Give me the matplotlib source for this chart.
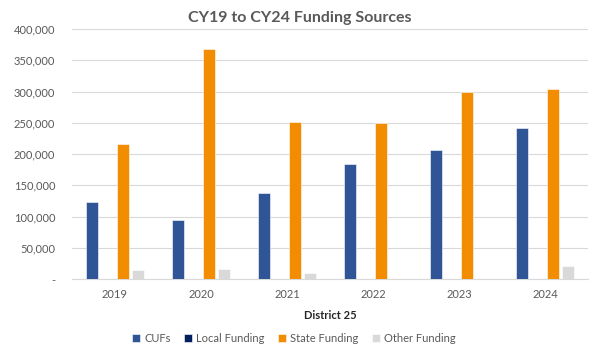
import matplotlib

matplotlib.use("Agg")
import matplotlib.pyplot as plt
import numpy as np
from matplotlib.ticker import FuncFormatter

years = ["2019", "2020", "2021", "2022", "2023", "2024"]
cufs = [123000, 95000, 137000, 184000, 206000, 241000]
local_funding = [0, 0, 0, 0, 0, 0]
state_funding = [216000, 368000, 252000, 249000, 299000, 304000]
other_funding = [15000, 16500, 10000, 0, 0, 21000]

series = [
    ("CUFs", cufs, "#2F5597"),
    ("Local Funding", local_funding, "#002060"),
    ("State Funding", state_funding, "#F28C00"),
    ("Other Funding", other_funding, "#D9D9D9"),
]

plt.rcParams["font.family"] = ["Lato", "DejaVu Sans"]
grey = "#595959"

fig = plt.figure(figsize=(6, 3.49), dpi=100)
ax = fig.add_axes([0.12, 0.2, 0.86, 0.717])

x = np.arange(len(years))
offsets = [-0.27, -0.09, 0.09, 0.27]
for (name, vals, color), off in zip(series, offsets):
    ax.bar(x + off, vals, width=0.14, color=color, label=name,
           edgecolor="white", linewidth=0.4, zorder=3)

ax.set_xlim(-0.5, len(years) - 0.5)
ax.set_ylim(0, 400000)
ax.set_yticks(np.arange(0, 400001, 50000))
ax.yaxis.set_major_formatter(FuncFormatter(lambda v, p: "-" if v == 0 else f"{int(v):,}"))
ax.set_xticks(x)
ax.set_xticklabels(years)

ax.grid(axis="y", color="#D9D9D9", linewidth=0.8, zorder=0)
for side in ["top", "right", "left"]:
    ax.spines[side].set_visible(False)
ax.spines["bottom"].set_color("#D9D9D9")
ax.tick_params(axis="both", length=0, labelsize=8, labelcolor=grey)
ax.tick_params(axis="y", pad=12)
ax.tick_params(axis="x", pad=7)

ax.set_xlabel("District 25", fontsize=8, fontweight="bold", color="#262626", labelpad=7)
fig.text(0.5, 0.948, "CY19 to CY24 Funding Sources", ha="center", va="center",
         fontsize=11.5, fontweight="bold", color=grey)

ax.legend(loc="upper center", bbox_to_anchor=(0.43, -0.175), ncol=4, frameon=False,
          fontsize=8, labelcolor=grey, handlelength=0.7, handleheight=0.7,
          handletextpad=0.4, columnspacing=1.2)

fig.savefig("out.png", dpi=100)
